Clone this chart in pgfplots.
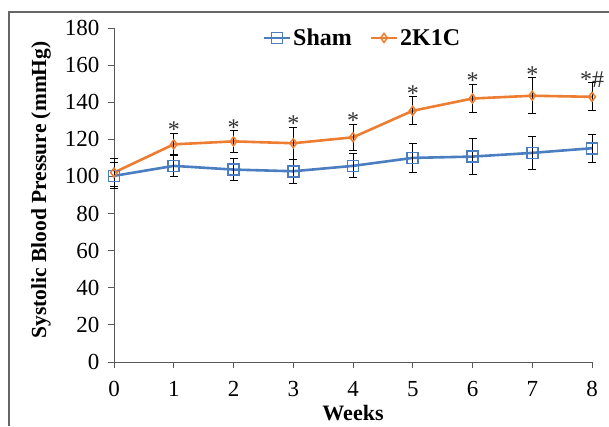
\documentclass[border=0pt]{standalone}
\usepackage{pgfplots}
\pgfplotsset{compat=1.18}
\usepackage{fontspec}
\setmainfont{Liberation Serif}
\definecolor{shamblue}{RGB}{74,126,193}
\definecolor{korange}{RGB}{237,125,49}
\begin{document}
\begin{tikzpicture}[x=1pt,y=1pt]
\useasboundingbox (0,0) rectangle (609,426);
\draw[gray!80!black, line width=1.2pt] (9,0) -- (9,414) -- (609,414);
\begin{axis}[
  at={(114pt,64pt)}, anchor=origin,
  scale only axis, width=478pt, height=334pt,
  xmin=0, xmax=8, ymin=0, ymax=180,
  xtick={0,...,8}, ytick={0,20,...,180},
  axis x line*=bottom, axis y line*=left,
  axis line style={gray!70!black, line width=1pt, -},
  tick style={gray!70!black, line width=1pt},
  tick align=outside, major tick length=6pt,
  minor tick num=0,
  clip=false,
  /pgf/number format/assume math mode=true,
  tick label style={font=\fontsize{23}{26}\selectfont},
  yticklabel style={xshift=-5pt},
  xticklabel style={yshift=-10pt},
  xlabel={\textbf{Weeks}},
  ylabel={\textbf{Systolic Blood Pressure (mmHg)}},
  xlabel style={at={(axis description cs:0.5,-0.153)}, anchor=center, font=\fontsize{22}{24}\selectfont},
  ylabel style={at={(axis description cs:-0.1527,0.515)}, anchor=center, rotate=0, font=\fontsize{21.5}{24}\selectfont},
  legend style={at={(axis description cs:0.52,1.01)}, anchor=north, draw=none, fill=none,
    legend columns=2, font=\fontsize{24}{26}\selectfont\bfseries,
    /tikz/every even column/.append style={column sep=16pt}},
  legend image code/.code={\draw[mark repeat=2,mark phase=2] plot coordinates {(0cm,0cm) (0.45cm,0cm) (0.9cm,0cm)};},
  legend cell align=left,
]
\addplot[shamblue, line width=2.6pt, mark=square, mark size=5.5pt, mark options={line width=1.6pt, fill=white},
  error bars/.cd, y dir=both, y explicit,
  error bar style={black, line width=1pt},
  error mark options={rotate=90, black, mark size=4pt, line width=1pt}]
  table[x=x, y=y, y error=e] {
x y e
0 100.3 7
1 105.7 5.5
2 103.7 6
3 102.8 6.5
4 105.7 6.5
5 110.0 8
6 110.7 9.5
7 112.7 9
8 115.2 7.6
};
\addlegendentry{Sham}
\addplot[korange, line width=2.6pt, mark=diamond, mark size=4.5pt, mark options={line width=1.5pt, fill=white},
  error bars/.cd, y dir=both, y explicit,
  error bar style={black, line width=1pt},
  error mark options={rotate=90, black, mark size=4pt, line width=1pt}]
  table[x=x, y=y, y error=e] {
x y e
0 102.1 7.5
1 117.3 5.7
2 118.9 5.8
3 117.9 8.7
4 121.1 7
5 135.4 7.6
6 142.0 7.3
7 143.5 9.7
8 142.9 7.5
};
\addlegendentry{2K1C}
\addplot[only marks, mark=none, forget plot, nodes near coords, point meta=explicit symbolic,
  nodes near coords style={anchor=center, font=\fontsize{24}{26}\selectfont, text=black!80, inner sep=0pt}]
  table[x=x, y=y, meta=l] {
x y l
1 125.0 *
2 126.3 *
3 128.2 *
4 129.9 *
5 144.4 *
6 151.4 *
7 154.6 *
8 152.4 *\#
};
\end{axis}
\end{tikzpicture}
\end{document}
